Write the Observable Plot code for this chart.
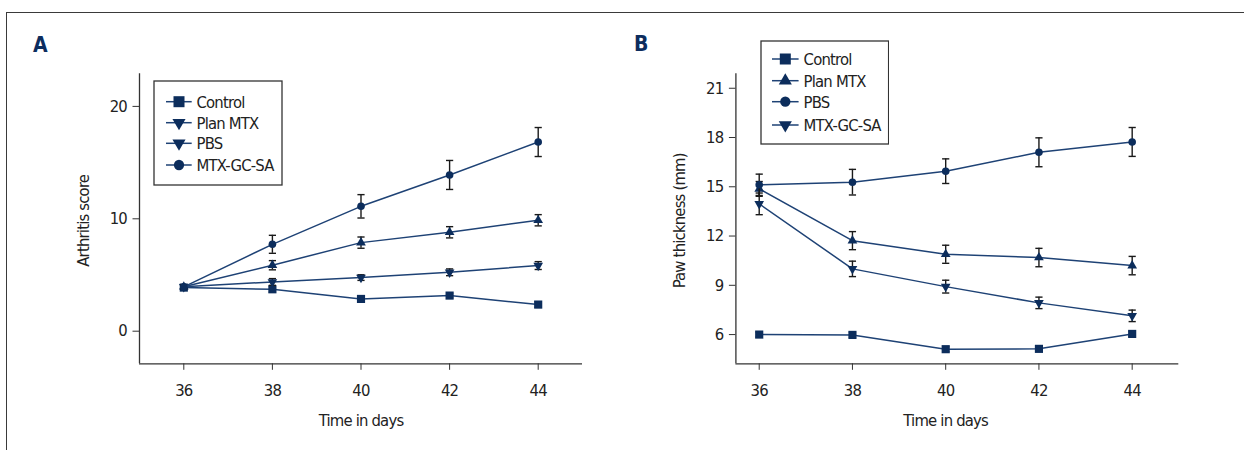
<!DOCTYPE html>
<html>
<head>
<meta charset="utf-8">
<script src="https://cdn.jsdelivr.net/npm/d3@7"></script>
<script src="https://cdn.jsdelivr.net/npm/@observablehq/plot@0.6"></script>
<style>
  html, body { margin: 0; padding: 0; background: #fff; }
  #root { position: relative; width: 1244px; height: 450px; overflow: hidden;
          font-family: "DejaVu Sans Condensed", sans-serif; }
  .frame { position: absolute; left: 6px; top: 12px; right: -2px; bottom: -2px;
           border-left: 1px solid #3a3a3a; border-top: 1px solid #3a3a3a; }
  .panel { position: absolute; top: 0; }
  .letter { position: absolute; font-family: "DejaVu Sans Condensed", sans-serif; font-weight: bold;
            font-size: 21px; color: #0d2d5e; line-height: 1; }
  .legend { position: absolute; }
</style>
</head>
<body>
<div id="root">
  <div class="frame"></div>
  <div class="letter" style="left:33px;top:35px;">A</div>
  <div class="letter" style="left:634px;top:34px;">B</div>
</div>
<script>
// ---------- data ----------
const days = [36, 38, 40, 42, 44];

// Panel A: Arthritis score
const aSquare      = [3.88, 3.73, 2.87, 3.17, 2.37];
const aSquareErr   = [0.15, 0.25, 0.25, 0.2, 0.25];
const aUpTri       = [3.95, 5.87, 7.88, 8.8, 9.87];
const aUpTriErr    = [0.15, 0.41, 0.5, 0.5, 0.5];
const aDownTri     = [3.95, 4.38, 4.77, 5.24, 5.84];
const aDownTriErr  = [0.15, 0.3, 0.25, 0.3, 0.35];
const aCircle      = [3.94, 7.73, 11.11, 13.9, 16.83];
const aCircleErr   = [0.15, 0.8, 1.04, 1.29, 1.29];

// Panel B: Paw thickness (mm)
const bControl     = [6.0, 5.98, 5.11, 5.13, 6.04];
const bControlErr  = [0.15, 0.15, 0.15, 0.15, 0.15];
const bPlanMTX     = [14.87, 11.72, 10.89, 10.69, 10.2];
const bPlanMTXErr  = [0.45, 0.55, 0.55, 0.56, 0.56];
const bPBS         = [15.12, 15.28, 15.95, 17.1, 17.73];
const bPBSErr      = [0.65, 0.78, 0.75, 0.88, 0.88];
const bMTXGCSA     = [13.96, 10.0, 8.92, 7.93, 7.14];
const bMTXGCSAErr  = [0.66, 0.47, 0.39, 0.35, 0.35];

const legendA = ["Control", "Plan MTX", "PBS", "MTX-GC-SA"];
const legendAShapes = ["square", "down", "down", "circle"];
const legendB = ["Control", "Plan MTX", "PBS", "MTX-GC-SA"];
const legendBShapes = ["square", "up", "circle", "down"];

const yTicksA = [0, 10, 20];
const yTicksB = [6, 9, 12, 15, 18, 21];
const xDomainA = [35, 45];
const xDomainB = [35.5, 45];
const yDomainA = [-2.9, 22.9];
const yDomainB = [4.22, 21.88];
const xTitle = "Time in days";
const xTitleAt = 40;

// ---------- styles ----------
const LINE = "#1e4275";
const MARK = "#0c2d5c";
const ERR = "#1a1a1a";
const AXIS = "#333";
const FONT = '"DejaVu Sans Condensed", sans-serif';
const FS = 16.5;
const LS = "-0.8px";

const capSymbol = {
  draw(ctx, size) {
    const r = Math.sqrt(size / Math.PI);
    ctx.moveTo(-r, 0); ctx.lineTo(r, 0);
  }
};

function series(vals, errs, shape) {
  return days.map((d, i) => ({day: d, v: vals[i], e: errs[i], shape}));
}

function shapeOpts(shape, scale = 1) {
  if (shape === "square") return {symbol: "square", r: 4.6 * scale, rotate: 0};
  if (shape === "circle") return {symbol: "circle", r: 3.8 * scale, rotate: 0};
  if (shape === "up") return {symbol: "triangle", r: 3.6 * scale, rotate: 0};
  return {symbol: "triangle", r: 3.6 * scale, rotate: 180};
}

function seriesMarks(data) {
  const so = shapeOpts(data[0].shape);
  return [
    Plot.ruleX(data, {x: "day", y1: d => d.v - d.e, y2: d => d.v + d.e, stroke: ERR, strokeWidth: 1.4}),
    Plot.dot(data, {x: "day", y: d => d.v - d.e, symbol: capSymbol, r: 3.6, stroke: ERR, strokeWidth: 1.4, fill: "none"}),
    Plot.dot(data, {x: "day", y: d => d.v + d.e, symbol: capSymbol, r: 3.6, stroke: ERR, strokeWidth: 1.4, fill: "none"}),
    Plot.line(data, {x: "day", y: "v", stroke: LINE, strokeWidth: 1.5}),
    Plot.dot(data, {x: "day", y: "v", symbol: so.symbol, r: so.r, rotate: so.rotate, fill: MARK, stroke: "none"})
  ];
}

function panel({width, marginLeft, marginRight, xDomain, yDomain, yTicks, yLabel, seriesList}) {
  return Plot.plot({
    width, height: 450,
    marginLeft, marginRight, marginTop: 73.3, marginBottom: 86.7,
    style: {fontFamily: FONT, fontSize: FS + "px", letterSpacing: LS, color: "#222", background: "transparent", overflow: "visible"},
    x: {domain: xDomain},
    y: {domain: yDomain},
    marks: [
      Plot.axisX({ticks: days, tickSize: 6.5, tickPadding: 14, tickFormat: d => String(d), label: null, stroke: AXIS, fontSize: FS}),
      Plot.axisY({ticks: yTicks, tickSize: 6.5, tickPadding: 6, tickFormat: d => String(d), label: null, stroke: AXIS, fontSize: FS}),
      Plot.ruleX([xDomain[0]], {stroke: AXIS, strokeWidth: 1.3}),
      Plot.ruleY([yDomain[0]], {stroke: AXIS, strokeWidth: 1.3}),
      Plot.text([{t: xTitle, x: xTitleAt}], {x: "x", frameAnchor: "bottom", text: "t", dy: 57, lineAnchor: "middle", textAnchor: "middle", fontSize: FS, fill: "#222"}),
      Plot.text([yLabel], {frameAnchor: "left", text: d => d, rotate: -90, dx: -56, dy: 2, lineAnchor: "middle", textAnchor: "middle", fontSize: FS, fill: "#222"}),
      ...seriesList.flatMap(seriesMarks)
    ]
  });
}

const root = document.getElementById("root");

const plotA = panel({
  width: 620, marginLeft: 139, marginRight: 38,
  xDomain: xDomainA, yDomain: yDomainA, yTicks: yTicksA, yLabel: "Arthritis score",
  seriesList: [
    series(aSquare, aSquareErr, "square"),
    series(aDownTri, aDownTriErr, "down"),
    series(aUpTri, aUpTriErr, "up"),
    series(aCircle, aCircleErr, "circle")
  ]
});
const wa = document.createElement("div");
wa.className = "panel"; wa.style.left = "0px";
wa.appendChild(plotA); root.appendChild(wa);

const plotB = panel({
  width: 624, marginLeft: 115.4, marginRight: 65.7,
  xDomain: xDomainB, yDomain: yDomainB, yTicks: yTicksB, yLabel: "Paw thickness (mm)",
  seriesList: [
    series(bControl, bControlErr, "square"),
    series(bMTXGCSA, bMTXGCSAErr, "down"),
    series(bPlanMTX, bPlanMTXErr, "up"),
    series(bPBS, bPBSErr, "circle")
  ]
});
const wb = document.createElement("div");
wb.className = "panel"; wb.style.left = "620px";
wb.appendChild(plotB); root.appendChild(wb);

// ---------- legends ----------
function legend(names, shapes, {left, top, width, height, rows, lineX0, lineX1, markX, textX}) {
  const svg = d3.create("svg")
    .attr("class", "legend")
    .attr("width", width + 2).attr("height", height + 2)
    .style("left", (left - 1) + "px").style("top", (top - 1) + "px");
  svg.append("rect").attr("x", 1).attr("y", 1).attr("width", width).attr("height", height)
    .attr("fill", "#fff").attr("stroke", AXIS).attr("stroke-width", 1.3);
  names.forEach((name, i) => {
    const y = rows[i] + 1;
    svg.append("line").attr("x1", lineX0 + 1).attr("x2", lineX1 + 1).attr("y1", y).attr("y2", y)
      .attr("stroke", LINE).attr("stroke-width", 1.5);
    const so = shapeOpts(shapes[i], 1.35);
    const sym = so.symbol === "square" ? d3.symbolSquare : so.symbol === "circle" ? d3.symbolCircle : d3.symbolTriangle;
    svg.append("path").attr("d", d3.symbol(sym, Math.PI * so.r * so.r)())
      .attr("transform", `translate(${markX + 1},${y}) rotate(${so.rotate})`)
      .attr("fill", MARK);
    svg.append("text").attr("x", textX + 1).attr("y", y).attr("dy", "0.36em")
      .attr("font-family", FONT).attr("font-size", 16.5).attr("letter-spacing", LS)
      .attr("fill", "#222").text(name);
  });
  root.appendChild(svg.node());
}

legend(legendA, legendAShapes, {
  left: 154.2, top: 81, width: 128, height: 104,
  rows: [20.7, 41.7, 62.3, 84], lineX0: 12, lineX1: 37.7, markX: 25, textX: 42.5
});
legend(legendB, legendBShapes, {
  left: 760.7, top: 41, width: 127.6, height: 103,
  rows: [18, 39.7, 60.7, 84], lineX0: 11, lineX1: 37.6, markX: 24.3, textX: 42.6
});
</script>
</body>
</html>
